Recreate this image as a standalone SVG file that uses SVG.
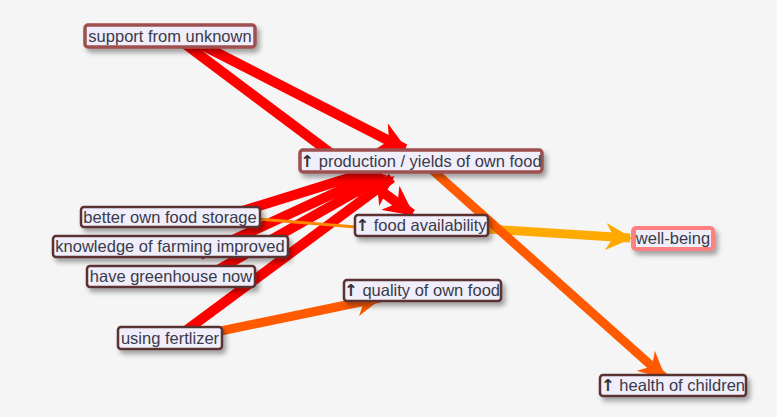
<svg xmlns="http://www.w3.org/2000/svg" width="777" height="417" viewBox="0 0 777 417">
<defs>
<filter id="sh" x="-20%" y="-40%" width="140%" height="200%"><feDropShadow dx="3" dy="4" stdDeviation="2.5" flood-color="#000" flood-opacity="0.35"/></filter>
<marker id="aR" viewBox="0 0 10 10" refX="9" refY="5" markerWidth="3" markerHeight="3" orient="auto"><path d="M0,0 L10,5 L0,10 L3,5 z" fill="#ff0000"/></marker>
<marker id="aO" viewBox="0 0 10 10" refX="9" refY="5" markerWidth="3" markerHeight="3" orient="auto"><path d="M0,0 L10,5 L0,10 L3,5 z" fill="#ff5a00"/></marker>
<marker id="aY" viewBox="0 0 10 10" refX="9" refY="5" markerWidth="3" markerHeight="3" orient="auto"><path d="M0,0 L10,5 L0,10 L3,5 z" fill="#ffaa00"/></marker>
</defs>
<style>
.box{fill:#f0eefa;stroke:#5a3030;stroke-width:2.5;filter:url(#sh)}
.top{stroke:#9e5050;stroke-width:3.5}
text{font-family:"Liberation Sans",Arial,sans-serif;font-size:16.5px;fill:#3a3a48;text-anchor:middle}
.up{font-family:"DejaVu Sans",sans-serif;font-weight:bold;fill:#333}
.e{fill:none;stroke-linecap:butt}
.r{stroke:#ff0000;stroke-width:10;marker-end:url(#aR)}
.o{stroke:#ff5a00;stroke-width:9;marker-end:url(#aO)}
.y{stroke:#ffaa00;stroke-width:9;marker-end:url(#aY)}
</style>
<rect width="777" height="417" fill="#f5f5f5"/>
<g id="connectors">
<line class="e r" x1="185" y1="44" x2="412" y2="214"/>
<line class="e r" x1="200" y1="44" x2="405" y2="149"/>
<line class="e r" x1="220" y1="218" x2="368" y2="172"/>
<line class="e r" x1="200" y1="255" x2="376" y2="174"/>
<line class="e r" x1="200" y1="280" x2="384" y2="176"/>
<line class="e r" x1="180" y1="335" x2="392" y2="178"/>
<line x1="258" y1="219" x2="356" y2="227" stroke="#ff8800" stroke-width="3"/>
<line class="e y" x1="487" y1="229" x2="630" y2="238"/>
<line class="e o" x1="430" y1="168" x2="664" y2="377"/>
<line class="e o" x1="216" y1="332" x2="380" y2="298"/>
</g>
<g id="n-support"><rect class="box top" x="85" y="25" width="170" height="22" rx="3"/><text x="170" y="42">support from unknown</text></g>
<g id="n-production"><rect class="box top" x="300" y="150" width="242" height="22" rx="3"/><text x="421" y="167"><tspan class="up">↑</tspan> production / yields of own food</text></g>
<g id="n-storage"><rect class="box" x="81" y="207" width="179" height="20" rx="3"/><text x="170" y="223">better own food storage</text></g>
<g id="n-knowledge"><rect class="box" x="53" y="236" width="235" height="21" rx="3"/><text x="170" y="252">knowledge of farming improved</text></g>
<g id="n-greenhouse"><rect class="box" x="87" y="266" width="168" height="21" rx="3"/><text x="171" y="282">have greenhouse now</text></g>
<g id="n-availability"><rect class="box" x="355" y="215" width="133" height="21" rx="3"/><text x="421" y="231"><tspan class="up">↑</tspan> food availability</text></g>
<g id="n-wellbeing"><rect x="631" y="226" width="84" height="25" rx="5" fill="#ff8080" filter="url(#sh)"/><rect x="636" y="230" width="75" height="17" fill="#f0eefa"/><text x="673" y="244">well-being</text></g>
<g id="n-quality"><rect class="box" x="344" y="280" width="157" height="21" rx="3"/><text x="422" y="296"><tspan class="up">↑</tspan> quality of own food</text></g>
<g id="n-fertlizer"><rect class="box" x="118" y="327" width="104" height="22" rx="3"/><text x="170" y="344">using fertlizer</text></g>
<g id="n-health"><rect class="box" x="600" y="375" width="146" height="21" rx="3"/><text x="673" y="391"><tspan class="up">↑</tspan> health of children</text></g>
</svg>
